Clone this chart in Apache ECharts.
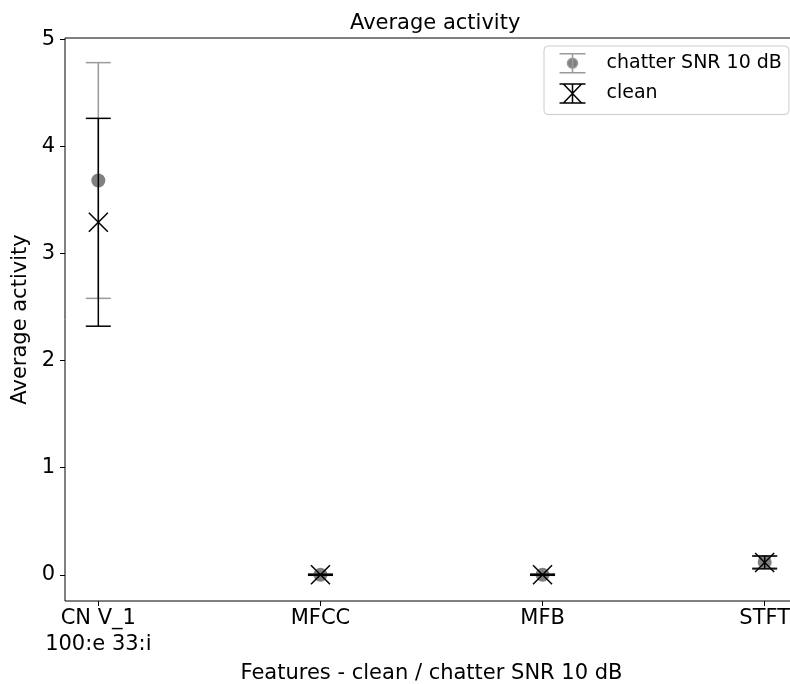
<!DOCTYPE html>
<html>
<head>
<meta charset="utf-8">
<script src="https://cdn.jsdelivr.net/npm/echarts@6/dist/echarts.min.js"></script>
<style>html,body{margin:0;padding:0;background:#fff;}#c{width:790px;height:684px;}</style>
</head>
<body>
<div id="c"></div>
<script>
var categories = ['CN V_1\n100:e 33:i', 'MFCC', 'MFB', 'STFT'];
var xPositions = [0, 1, 2, 3];
var chatterMean = [3.68, 0.0, 0.0, 0.12];
var chatterErr = [1.10, 0.005, 0.005, 0.055];
var cleanMean = [3.29, 0.0, 0.0, 0.115];
var cleanErr = [0.97, 0.005, 0.005, 0.06];
var yTicks = [0, 1, 2, 3, 4, 5];

var FONT = 'DejaVu Sans';

function build(means, errs) {
  return xPositions.map(function (x, i) { return [x, means[i], errs[i]]; });
}

function makeRender(lineColor, markerKind, markerColor) {
  return function (params, api) {
    var x = api.value(0), m = api.value(1), e = api.value(2);
    var top = api.coord([x, m + e]);
    var bot = api.coord([x, m - e]);
    var mid = api.coord([x, m]);
    var cw = 12.5;
    var ls = { stroke: lineColor, lineWidth: 1.5 };
    var children = [
      { type: 'line', shape: { x1: top[0], y1: top[1], x2: bot[0], y2: bot[1] }, style: ls },
      { type: 'line', shape: { x1: top[0] - cw, y1: top[1], x2: top[0] + cw, y2: top[1] }, style: ls },
      { type: 'line', shape: { x1: bot[0] - cw, y1: bot[1], x2: bot[0] + cw, y2: bot[1] }, style: ls }
    ];
    if (markerKind === 'circle') {
      children.push({ type: 'circle', shape: { cx: mid[0], cy: mid[1], r: 7 }, style: { fill: markerColor } });
    } else {
      var s = 9.5;
      var ms = { stroke: markerColor, lineWidth: 1.5 };
      children.push({ type: 'line', shape: { x1: mid[0] - s, y1: mid[1] - s, x2: mid[0] + s, y2: mid[1] + s }, style: ms });
      children.push({ type: 'line', shape: { x1: mid[0] - s, y1: mid[1] + s, x2: mid[0] + s, y2: mid[1] - s }, style: ms });
    }
    return { type: 'group', children: children };
  };
}

var chart = echarts.init(document.getElementById('c'));
chart.setOption({
  backgroundColor: '#fff',
  animation: false,
  title: {
    text: 'Average activity',
    left: 345, top: 8,
    textStyle: { fontFamily: FONT, fontSize: 21, fontWeight: 'normal', color: '#000' }
  },
  grid: { left: 65, right: -8, top: 38, bottom: 83, outerBoundsMode: 'none', containLabel: false,
    show: true, borderColor: '#000', borderWidth: 1, backgroundColor: 'transparent' },
  legend: {
    orient: 'vertical',
    left: 544, top: 46,
    width: 244,
    padding: [7, 7, 9, 13],
    itemWidth: 26, itemHeight: 19, itemGap: 8,
    borderColor: '#cccccc', borderWidth: 1, borderRadius: 4,
    backgroundColor: 'rgba(255,255,255,0.8)',
    selectedMode: false,
    textStyle: { fontFamily: FONT, fontSize: 19, color: '#000', padding: [0, 0, 0, 16] },
    data: [
      { name: 'chatter SNR 10 dB',
        icon: 'path://M0,0L26,0M13,0L13,19M0,19L26,19M8,9.5A5,5 0 1 0 18,9.5A5,5 0 1 0 8,9.5Z',
        itemStyle: { color: '#808080', borderColor: '#9a9a9a', borderWidth: 1.5 } },
      { name: 'clean',
        icon: 'path://M0,0L26,0M13,0L13,19M0,19L26,19M4,0L22,19M22,0L4,19',
        itemStyle: { color: 'none', borderColor: '#000', borderWidth: 1.5 } }
    ]
  },
  xAxis: {
    type: 'value', min: -0.15, max: 3.15,
    name: 'Features - clean / chatter SNR 10 dB',
    nameLocation: 'middle', nameGap: 58,
    nameTextStyle: { fontFamily: FONT, fontSize: 21, color: '#000' },
    axisLine: { show: false, onZero: false },
    axisTick: { show: true, length: 5, lineStyle: { color: '#000' }, customValues: xPositions },
    axisLabel: { show: true, margin: 5, fontFamily: FONT, fontSize: 21, color: '#000', lineHeight: 26,
      customValues: xPositions,
      formatter: function (v) { var i = Math.round(v); return categories[i] || ''; } },
    splitLine: { show: false }
  },
  yAxis: {
    type: 'value', min: -0.245, max: 5.01,
    name: 'Average activity',
    nameLocation: 'middle', nameGap: 30, nameRotate: 90,
    nameTextStyle: { fontFamily: FONT, fontSize: 21, color: '#000' },
    axisLine: { show: false, onZero: false },
    axisTick: { show: true, length: 5, lineStyle: { color: '#000' }, customValues: yTicks },
    axisLabel: { show: true, margin: 10, fontFamily: FONT, fontSize: 21, color: '#000', customValues: yTicks },
    splitLine: { show: false }
  },
  series: [
    { type: 'custom', name: 'chatter SNR 10 dB', renderItem: makeRender('#9a9a9a', 'circle', '#808080'),
      itemStyle: { color: '#808080' },
      encode: { x: 0, y: 1 }, data: build(chatterMean, chatterErr), z: 2 },
    { type: 'custom', name: 'clean', renderItem: makeRender('#000', 'x', '#000'),
      itemStyle: { color: '#000' },
      encode: { x: 0, y: 1 }, data: build(cleanMean, cleanErr), z: 3 }
  ]
});
</script>
</body>
</html>
